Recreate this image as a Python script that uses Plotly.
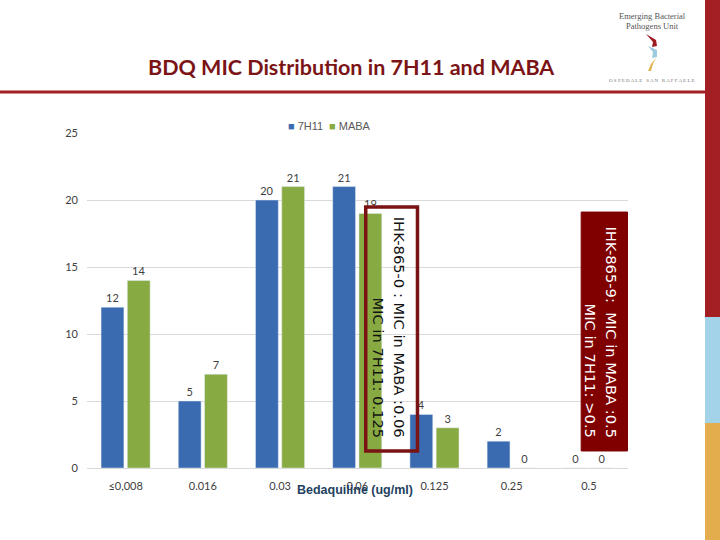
import plotly.graph_objects as go

categories = ["≤0,008", "0.016", "0.03", "0.06", "0.125", "0.25", "0.5"]
vals_7h11 = [12, 5, 20, 21, 4, 2, 0]
vals_maba = [14, 7, 21, 19, 3, 0, 0]
series_names = ["7H11", "MABA"]
series_colors = ["#3A6BB0", "#87AB42"]
box1_lines = ["IHK-865-0 : MIC in MABA :0.06", "MIC in 7H11: 0.125"]
box2_lines = ["IHK-865-9:  MIC in MABA :0.5", "MIC in 7H11: >0.5"]

W, H = 720, 540
L, R, T, B = 87, 628, 133, 468


def px(x, y):
    return (x - L) / (R - L), (B - y) / (B - T)


fig = go.Figure()
for name, vals, col in zip(series_names, [vals_7h11, vals_maba], series_colors):
    fig.add_trace(go.Bar(x=categories, y=vals, name=name,
                         marker=dict(color=col), text=vals,
                         textposition="outside", cliponaxis=False,
                         textfont=dict(size=11, color="#404040", family="Lato")))

shapes = []
annotations = []

# decorative frame
x0p, _ = px(0, 0)
x705, _ = px(705, 0)
x720, _ = px(720, 0)
_, y92 = px(0, 92)
shapes.append(dict(type="line", xref="paper", yref="paper", x0=x0p, x1=x705,
                   y0=y92, y1=y92, line=dict(color="#A31F24", width=3)))
for (ya, yb, c) in [(0, 317, "#A31F24"), (317, 423, "#A3D3E8"), (423, 540, "#E3AD4E")]:
    _, y0 = px(0, ya)
    _, y1 = px(0, yb)
    shapes.append(dict(type="rect", xref="paper", yref="paper", x0=x705, x1=x720,
                       y0=y1, y1=y0, line=dict(width=0), fillcolor=c, layer="below"))


def path_px(pts):
    s = ""
    for i, (a, b) in enumerate(pts):
        xa, yb = px(a, b)
        s += ("M" if i == 0 else "L") + f"{xa:.4f},{yb:.4f} "
    return s + "Z"


# logo swooshes
shapes.append(dict(type="path", xref="paper", yref="paper",
                   path=path_px([(646, 34), (656, 40), (657, 46), (652, 47), (653, 42)]),
                   fillcolor="#9E1B22", line=dict(width=0)))
shapes.append(dict(type="path", xref="paper", yref="paper",
                   path=path_px([(648, 46), (657, 50), (657, 57), (652, 58), (653, 52)]),
                   fillcolor="#9CCBE0", line=dict(width=0)))
shapes.append(dict(type="path", xref="paper", yref="paper",
                   path=path_px([(656, 58), (651, 64), (648, 71), (651, 71), (653, 64)]),
                   fillcolor="#E0B44C", line=dict(width=0)))

for (t, y, s, col) in [("Emerging Bacterial", 16, 8.5, "#555555"),
                       ("Pathogens Unit", 26, 8.5, "#555555"),
                       ("O S P E D A L E   S A N   R A F F A E L E", 80, 5, "#777777")]:
    xa, ya = px(652, y)
    annotations.append(dict(xref="paper", yref="paper", x=xa, y=ya, text=t,
                            showarrow=False, xanchor="center", yanchor="middle",
                            font=dict(family="Liberation Serif", size=s, color=col)))

# title
xa, ya = px(351, 67)
annotations.append(dict(xref="paper", yref="paper", x=xa, y=ya,
                        text="<b>BDQ MIC Distribution in 7H11 and MABA</b>",
                        showarrow=False, xanchor="center", yanchor="middle",
                        font=dict(family="Lato", size=21.5, color="#7B1416")))

# legend (as annotations)
for (xpx, name, col) in [(286, series_names[0], series_colors[0]),
                         (327, series_names[1], series_colors[1])]:
    xa, ya = px(xpx, 126)
    annotations.append(dict(xref="paper", yref="paper", x=xa, y=ya,
                            text=f"<span style='color:{col}'>■</span> {name}",
                            showarrow=False, xanchor="left", yanchor="middle",
                            font=dict(family="Liberation Sans Narrow, Liberation Sans",
                                      size=11, color="#595959")))

# x axis title
xa, ya = px(355, 490)
annotations.append(dict(xref="paper", yref="paper", x=xa, y=ya,
                        text="<b>Bedaquiline (ug/ml)</b>",
                        showarrow=False, xanchor="center", yanchor="middle",
                        font=dict(family="Liberation Sans Narrow, Liberation Sans", size=12.5,
                                  color="#243F60")))

# annotation boxes (category-index x, value y)
shapes.append(dict(type="rect", xref="x", yref="y", x0=3.11, x1=3.78, y0=1.27, y1=19.48,
                   line=dict(color="#7A1313", width=3.5), fillcolor="rgba(0,0,0,0)"))
shapes.append(dict(type="rect", xref="x", yref="y", x0=5.90, x1=6.50, y0=1.27, y1=19.1,
                   line=dict(color="#7F0000", width=1), fillcolor="#800000"))

for (xv, txt, col) in [(3.55, box1_lines[0], "#111111"), (3.27, box1_lines[1], "#111111"),
                       (6.28, box2_lines[0], "#FFFFFF"), (6.02, box2_lines[1], "#FFFFFF")]:
    annotations.append(dict(xref="x", yref="y", x=xv, y=2.09, text=txt, textangle=90,
                            showarrow=False, xanchor="center", yanchor="bottom",
                            font=dict(family="DejaVu Sans", size=14.7, color=col)))

fig.update_layout(
    width=W, height=H,
    margin=dict(l=L, r=W - R, t=T, b=H - B),
    paper_bgcolor="white", plot_bgcolor="white",
    barmode="group", bargap=0.32, bargroupgap=0.13,
    showlegend=False,
    shapes=shapes, annotations=annotations,
    xaxis=dict(showgrid=False, showline=True, linecolor="#D9D9D9", ticks="",
               tickfont=dict(size=11, color="#404040", family="Lato"),
               ticklabelstandoff=8, fixedrange=True),
    yaxis=dict(range=[0, 25], tickvals=[0, 5, 10, 15, 20, 25], showgrid=True,
               gridcolor="#D9D9D9", zeroline=False, ticks="",
               tickfont=dict(size=11, color="#404040", family="Lato"),
               ticklabelstandoff=8),
)

fig.write_html("out.html", config={"displayModeBar": False},
               post_script="document.body.style.margin='0';document.body.style.overflow='hidden';")
